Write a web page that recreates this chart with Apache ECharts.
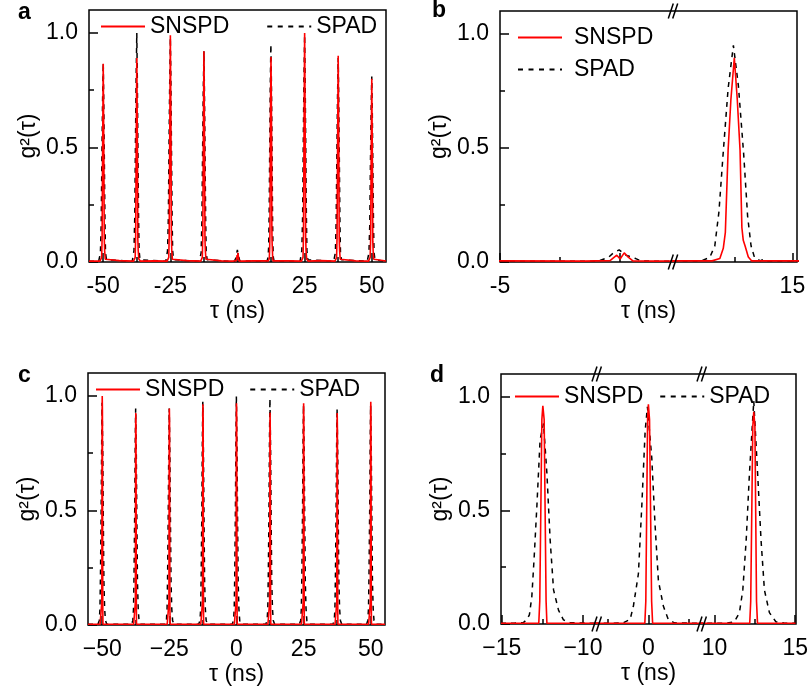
<!DOCTYPE html>
<html>
<head>
<meta charset="utf-8">
<script src="https://cdn.jsdelivr.net/npm/echarts@6/dist/echarts.min.js"></script>
<style>
  html, body { margin: 0; padding: 0; background: #fff; }
  #chart { width: 811px; height: 690px; }
</style>
</head>
<body>
<div id="chart"></div>
<script>
// ---- g2(tau) histograms, [tau (ns), g2] ----
// Pulsed excitation, 12.5 ns repetition (panel a, window -5..15 ns in panel b)
const snspdPulsed = [
  [-55.3,0.004],
  [-51.2,0.004],[-50.6,0.02],[-50.42,0.1],[-50.25,0.45],[-50.0,0.865],[-49.75,0.43],[-49.62,0.1],[-49.48,0.05],[-49.25,0.012],[-48.7,0.004],
  [-44.0,0.006],
  [-38.7,0.004],[-38.1,0.02],[-37.92,0.11],[-37.75,0.46],[-37.5,0.89],[-37.25,0.45],[-37.12,0.1],[-36.98,0.05],[-36.75,0.013],[-36.2,0.004],
  [-31.0,0.005],
  [-26.2,0.004],[-25.6,0.02],[-25.42,0.12],[-25.25,0.51],[-25.0,0.99],[-24.75,0.5],[-24.62,0.11],[-24.48,0.05],[-24.25,0.012],[-23.7,0.004],
  [-19.0,0.006],
  [-13.7,0.004],[-13.1,0.02],[-12.92,0.11],[-12.75,0.47],[-12.5,0.92],[-12.25,0.46],[-12.12,0.1],[-11.98,0.05],[-11.75,0.012],[-11.2,0.004],
  [-6.0,0.005],
  [-1.5,0.004],[-0.42,0.006],[-0.14,0.03],[0.0,0.013],[0.17,0.04],[0.35,0.02],[0.53,0.005],[1.5,0.004],
  [6.0,0.005],
  [11.5,0.005],[11.84,0.015],[11.99,0.06],[12.08,0.13],[12.2,0.49],[12.32,0.71],[12.47,0.895],[12.6,0.71],[12.72,0.49],[12.8,0.15],[12.86,0.095],[12.94,0.07],[13.08,0.022],[13.22,0.005],
  [19.0,0.005],
  [23.8,0.004],[24.4,0.02],[24.58,0.12],[24.75,0.52],[25.0,1.0],[25.25,0.5],[25.38,0.11],[25.52,0.05],[25.75,0.013],[26.3,0.004],
  [31.0,0.006],
  [36.3,0.004],[36.9,0.02],[37.08,0.11],[37.25,0.46],[37.5,0.9],[37.75,0.45],[37.88,0.1],[38.02,0.05],[38.25,0.012],[38.8,0.004],
  [44.0,0.005],
  [48.8,0.004],[49.4,0.02],[49.58,0.1],[49.75,0.41],[50.0,0.8],[50.25,0.4],[50.38,0.09],[50.52,0.045],[50.75,0.012],[51.3,0.004],
  [55.3,0.004]
];
const spadPulsed = [
  [-55.3,0.003],
  [-51.7,0.003],[-51.05,0.04],[-50.75,0.17],[-50.5,0.45],[-50.25,0.7],[-50.0,0.87],[-49.8,0.7],[-49.58,0.44],[-49.35,0.17],[-49.15,0.04],[-48.8,0.01],[-48.3,0.003],
  [-39.2,0.003],[-38.55,0.05],[-38.25,0.2],[-38.0,0.52],[-37.75,0.8],[-37.5,1.0],[-37.3,0.8],[-37.08,0.5],[-36.85,0.2],[-36.65,0.05],[-36.3,0.01],[-35.8,0.003],
  [-26.7,0.003],[-26.05,0.05],[-25.75,0.19],[-25.5,0.51],[-25.25,0.78],[-25.0,0.98],[-24.8,0.78],[-24.58,0.49],[-24.35,0.19],[-24.15,0.05],[-23.8,0.01],[-23.3,0.003],
  [-14.2,0.003],[-13.55,0.04],[-13.25,0.18],[-13.0,0.48],[-12.75,0.74],[-12.5,0.92],[-12.3,0.74],[-12.08,0.46],[-11.85,0.18],[-11.65,0.04],[-11.3,0.01],[-10.8,0.003],
  [-3.0,0.003],[-1.2,0.003],[-0.86,0.006],[-0.49,0.02],[-0.28,0.04],[-0.04,0.053],[0.24,0.03],[0.65,0.015],[0.86,0.005],[1.5,0.003],
  [11.0,0.004],[11.4,0.02],[11.62,0.07],[11.8,0.22],[11.98,0.47],[12.2,0.76],[12.43,0.95],[12.65,0.77],[12.88,0.47],[13.05,0.2],[13.2,0.07],[13.35,0.02],[13.6,0.005],[13.7,0.01],[13.85,0.003],
  [23.3,0.003],[23.95,0.05],[24.25,0.2],[24.5,0.52],[24.75,0.8],[25.0,0.99],[25.2,0.79],[25.42,0.5],[25.65,0.2],[25.85,0.05],[26.2,0.01],[26.7,0.003],
  [35.8,0.003],[36.45,0.04],[36.75,0.18],[37.0,0.46],[37.25,0.72],[37.5,0.89],[37.7,0.71],[37.92,0.45],[38.15,0.17],[38.35,0.04],[38.7,0.01],[39.2,0.003],
  [48.3,0.003],[48.95,0.04],[49.25,0.16],[49.5,0.42],[49.75,0.65],[50.0,0.81],[50.2,0.65],[50.42,0.41],[50.65,0.16],[50.85,0.04],[51.2,0.01],[51.7,0.003],
  [55.3,0.003]
];

// Second measurement (panel c, full range)
const snspdFull = [
  [-55.3,0.003],
  [-50.8,0.003],[-50.22,0.004],[-50.16,0.1],[-50.05,0.93],[-50.0,1.0],[-49.93,0.93],[-49.8,0.1],[-49.74,0.004],[-49.2,0.003],
  [-38.3,0.003],[-37.72,0.004],[-37.66,0.1],[-37.55,0.86],[-37.5,0.925],[-37.43,0.86],[-37.3,0.1],[-37.24,0.004],[-36.7,0.003],
  [-25.8,0.003],[-25.22,0.004],[-25.16,0.1],[-25.05,0.88],[-25.0,0.945],[-24.93,0.88],[-24.8,0.1],[-24.74,0.004],[-24.2,0.003],
  [-13.3,0.003],[-12.72,0.004],[-12.66,0.1],[-12.55,0.9],[-12.5,0.964],[-12.43,0.9],[-12.3,0.1],[-12.24,0.004],[-11.7,0.003],
  [-0.8,0.003],[-0.22,0.004],[-0.16,0.1],[-0.05,0.9],[0.0,0.968],[0.07,0.9],[0.2,0.1],[0.26,0.004],[0.8,0.003],
  [11.7,0.003],[12.28,0.004],[12.34,0.1],[12.45,0.86],[12.5,0.927],[12.57,0.86],[12.7,0.1],[12.76,0.004],[13.3,0.003],
  [24.2,0.003],[24.78,0.004],[24.84,0.1],[24.95,0.9],[25.0,0.968],[25.07,0.9],[25.2,0.1],[25.26,0.004],[25.8,0.003],
  [36.7,0.003],[37.28,0.004],[37.34,0.1],[37.45,0.86],[37.5,0.925],[37.57,0.86],[37.7,0.1],[37.76,0.004],[38.3,0.003],
  [49.2,0.003],[49.78,0.004],[49.84,0.1],[49.95,0.9],[50.0,0.974],[50.07,0.9],[50.2,0.1],[50.26,0.004],[50.8,0.003],
  [55.3,0.003]
];
const spadFull = [
  [-55.3,0.003],
  [-51.6,0.003],[-51.1,0.02],[-50.85,0.07],[-50.65,0.22],[-50.4,0.5],[-50.2,0.8],[-50.05,0.97],[-49.8,0.75],[-49.59,0.45],[-49.38,0.19],[-49.1,0.07],[-48.8,0.02],[-48.3,0.003],
  [-39.1,0.003],[-38.6,0.02],[-38.35,0.07],[-38.15,0.22],[-37.9,0.5],[-37.7,0.8],[-37.55,0.945],[-37.3,0.74],[-37.09,0.44],[-36.88,0.19],[-36.6,0.07],[-36.3,0.02],[-35.8,0.003],
  [-26.6,0.003],[-26.1,0.02],[-25.85,0.07],[-25.65,0.22],[-25.4,0.5],[-25.2,0.8],[-25.05,0.945],[-24.8,0.74],[-24.59,0.44],[-24.38,0.19],[-24.1,0.07],[-23.8,0.02],[-23.3,0.003],
  [-14.1,0.003],[-13.6,0.02],[-13.35,0.07],[-13.15,0.22],[-12.9,0.5],[-12.7,0.82],[-12.55,0.974],[-12.3,0.75],[-12.09,0.45],[-11.88,0.19],[-11.6,0.07],[-11.3,0.02],[-10.8,0.003],
  [-1.6,0.003],[-1.1,0.02],[-0.85,0.07],[-0.65,0.22],[-0.4,0.5],[-0.2,0.83],[-0.05,0.997],[0.2,0.76],[0.41,0.45],[0.62,0.19],[0.9,0.07],[1.2,0.02],[1.7,0.003],
  [10.9,0.003],[11.4,0.02],[11.65,0.07],[11.85,0.22],[12.1,0.5],[12.3,0.83],[12.45,0.988],[12.7,0.76],[12.91,0.45],[13.12,0.19],[13.4,0.07],[13.7,0.02],[14.2,0.003],
  [23.4,0.003],[23.9,0.02],[24.15,0.07],[24.35,0.22],[24.6,0.5],[24.8,0.81],[24.95,0.96],[25.2,0.75],[25.41,0.45],[25.62,0.19],[25.9,0.07],[26.2,0.02],[26.7,0.003],
  [35.9,0.003],[36.4,0.02],[36.65,0.07],[36.85,0.22],[37.1,0.5],[37.3,0.8],[37.45,0.945],[37.7,0.74],[37.91,0.44],[38.12,0.19],[38.4,0.07],[38.7,0.02],[39.2,0.003],
  [48.4,0.003],[48.9,0.02],[49.15,0.07],[49.35,0.22],[49.6,0.5],[49.8,0.81],[49.95,0.96],[50.2,0.75],[50.41,0.45],[50.62,0.19],[50.9,0.07],[51.2,0.02],[51.7,0.003],
  [55.3,0.003]
];

// Same measurement, detailed peaks around -12.5, 0 and 12.5 ns (panel d)
const snspdZoom = [
  [-15.05,0.003],[-13.5,0.003],[-12.72,0.004],[-12.66,0.1],[-12.53,0.9],[-12.47,0.96],[-12.39,0.9],[-12.27,0.1],[-12.22,0.004],[-11.0,0.003],
  [-3.2,0.003],[-1.0,0.003],[-0.22,0.004],[-0.16,0.1],[-0.05,0.9],[0.0,0.967],[0.07,0.9],[0.2,0.1],[0.26,0.004],[1.0,0.003],
  [9.2,0.003],[11.5,0.003],[12.18,0.004],[12.24,0.1],[12.37,0.87],[12.43,0.934],[12.5,0.87],[12.6,0.1],[12.66,0.004],[13.5,0.003],[15.02,0.003]
];
const spadZoom = [
  [-15.05,0.003],[-14.2,0.004],[-13.67,0.006],[-13.45,0.02],[-13.3,0.04],[-13.15,0.12],[-13.0,0.3],[-12.84,0.516],[-12.64,0.81],[-12.43,0.883],[-12.22,0.663],[-12.02,0.37],[-11.81,0.15],[-11.5,0.06],[-11.2,0.018],[-10.8,0.006],[-9.15,0.003],
  [-3.2,0.003],[-1.6,0.004],[-1.13,0.02],[-0.93,0.078],[-0.62,0.22],[-0.41,0.516],[-0.2,0.85],[-0.06,0.956],[0.21,0.73],[0.41,0.44],[0.62,0.19],[0.93,0.078],[1.23,0.02],[1.6,0.005],[3.3,0.003],
  [9.2,0.003],[10.8,0.004],[11.23,0.01],[11.54,0.05],[11.75,0.15],[11.96,0.37],[12.16,0.66],[12.43,0.981],[12.67,0.66],[12.88,0.37],[13.09,0.15],[13.4,0.05],[13.8,0.01],[14.3,0.004],[15.02,0.003]
];

// ---- tick values ----
const yMajorTicks = [0, 0.5, 1.0];
const yMinorTicks = [0.25, 0.75];
const fullMajorTicks = [-50, -25, 0, 25, 50];
const fullMinorTicks = [-37.5, -12.5, 12.5, 37.5];

const FONT = '"Liberation Sans", Arial, Helvetica, sans-serif';
const BLACK = '#000000';
const RED = '#ff0000';
const TICK_MAJOR = 9;
const TICK_MINOR = 5;
const tickLine = { color: BLACK, width: 1.5 };
const labelFont = { fontFamily: FONT, fontSize: 23, color: BLACK };

const hyphen = v => String(v);
const minus = v => String(v).replace('-', '\u2212');

// ---- layout ----
const grids = [];
const xAxes = [];
const yAxes = [];
const series = [];

function addGrid(left, top, width, height, framed) {
  grids.push({
    left, top, width, height,
    show: !!framed,
    borderColor: BLACK,
    borderWidth: 1.5,
    backgroundColor: 'transparent',
    containLabel: false
  });
  return grids.length - 1;
}

function addX(gridIndex, min, max, majors, minors, fmt, name) {
  xAxes.push({
    type: 'value', gridIndex, min, max, position: 'bottom',
    axisLine: { show: false, onZero: false },
    splitLine: { show: false },
    axisTick: majors.length ? { show: true, inside: true, length: TICK_MAJOR, customValues: majors, lineStyle: tickLine } : { show: false },
    axisLabel: majors.length ? Object.assign({ show: true, customValues: majors, formatter: fmt, margin: 13 }, labelFont) : { show: false },
    name: name || '',
    nameLocation: 'middle',
    nameGap: 38,
    nameTextStyle: Object.assign({}, labelFont)
  });
  const main = xAxes.length - 1;
  if (minors && minors.length) {
    xAxes.push({
      type: 'value', gridIndex, min, max, position: 'bottom',
      axisLine: { show: false, onZero: false }, splitLine: { show: false }, axisLabel: { show: false },
      axisTick: { show: true, inside: true, length: TICK_MINOR, customValues: minors, lineStyle: tickLine }
    });
  }
  return main;
}

function addY(gridIndex, visible) {
  if (!visible) {
    yAxes.push({ type: 'value', gridIndex, min: 0, max: 1.1, show: false, axisLine: { onZero: false } });
    return yAxes.length - 1;
  }
  yAxes.push({
    type: 'value', gridIndex, min: 0, max: 1.1, position: 'left',
    axisLine: { show: false, onZero: false },
    splitLine: { show: false },
    axisTick: { show: true, inside: true, length: TICK_MAJOR, customValues: yMajorTicks, lineStyle: tickLine },
    axisLabel: Object.assign({ show: true, customValues: yMajorTicks, formatter: v => v.toFixed(1), margin: 11 }, labelFont),
    name: 'g\u00b2(\u03c4)',
    nameLocation: 'middle',
    nameRotate: 90,
    nameGap: 49,
    nameTextStyle: Object.assign({}, labelFont)
  });
  const main = yAxes.length - 1;
  yAxes.push({
    type: 'value', gridIndex, min: 0, max: 1.1, position: 'left',
    axisLine: { show: false, onZero: false }, splitLine: { show: false }, axisLabel: { show: false },
    axisTick: { show: true, inside: true, length: TICK_MINOR, customValues: yMinorTicks, lineStyle: tickLine }
  });
  return main;
}

function addPair(xi, yi, snspd, spad) {
  series.push({
    name: 'SPAD', type: 'line', xAxisIndex: xi, yAxisIndex: yi, data: spad,
    symbol: 'none', showSymbol: false, clip: true, z: 2,
    lineStyle: { color: BLACK, width: 1.5, type: [5, 5] }, itemStyle: { color: BLACK }
  });
  series.push({
    name: 'SNSPD', type: 'line', xAxisIndex: xi, yAxisIndex: yi, data: snspd,
    symbol: 'none', showSymbol: false, clip: true, z: 3,
    lineStyle: { color: RED, width: 1.6 }, itemStyle: { color: RED }
  });
}

// Panel a
const gA = addGrid(89, 10, 297, 252, true);
const xA = addX(gA, -55.3, 55.3, fullMajorTicks, fullMinorTicks, hyphen, '\u03c4 (ns)');
const yA = addY(gA, true);
addPair(xA, yA, snspdPulsed, spadPulsed);

// Panel b (broken axis: -5..2.2 | 9.8..15.2)
const B = { left: 500, top: 11, height: 251, w1: 173, w2: 124 };
const gB = addGrid(B.left, B.top, B.w1 + B.w2, B.height, true);
addX(gB, 0, 1, [], [], hyphen, '\u03c4 (ns)');
addY(gB, true);
const gB1 = addGrid(B.left, B.top, B.w1, B.height, false);
const xB1 = addX(gB1, -5, 2.2, [-5, 0], [-2.5], hyphen);
const yB1 = addY(gB1, false);
addPair(xB1, yB1, snspdPulsed, spadPulsed);
const gB2 = addGrid(B.left + B.w1, B.top, B.w2, B.height, false);
const xB2 = addX(gB2, 9.8, 15.2, [15], [12.5], hyphen);
const yB2 = addY(gB2, false);
addPair(xB2, yB2, snspdPulsed, spadPulsed);

// Panel c
const gC = addGrid(88, 373, 297, 252, true);
const xC = addX(gC, -55.3, 55.3, fullMajorTicks, fullMinorTicks, minus, '\u03c4 (ns)');
const yC = addY(gC, true);
addPair(xC, yC, snspdFull, spadFull);

// Panel d (broken axis: -15..-9.15 | -3.2..3.3 | 9.2..15)
const D = { left: 501, top: 374, height: 250, w1: 95.7, w2: 105, w3: 94.3 };
const gD = addGrid(D.left, D.top, D.w1 + D.w2 + D.w3, D.height, true);
addX(gD, 0, 1, [], [], minus, '\u03c4 (ns)');
addY(gD, true);
const gD1 = addGrid(D.left, D.top, D.w1, D.height, false);
const xD1 = addX(gD1, -15.05, -9.15, [-15, -10], [-12.5], minus);
const yD1 = addY(gD1, false);
addPair(xD1, yD1, snspdZoom, spadZoom);
const gD2 = addGrid(D.left + D.w1, D.top, D.w2, D.height, false);
const xD2 = addX(gD2, -3.2, 3.3, [0], [-2.5, 2.5], minus);
const yD2 = addY(gD2, false);
addPair(xD2, yD2, snspdZoom, spadZoom);
const gD3 = addGrid(D.left + D.w1 + D.w2, D.top, D.w3, D.height, false);
const xD3 = addX(gD3, 9.2, 15.02, [10, 15], [12.5], minus);
const yD3 = addY(gD3, false);
addPair(xD3, yD3, snspdZoom, spadZoom);

// ---- legends (line sample only, no marker) ----
function legendAt(left, top, orient, itemGap, textPadLeft) {
  return {
    data: [
      { name: 'SNSPD' },
      { name: 'SPAD', lineStyle: { type: [5, 5.5] } }
    ],
    left, top, orient, itemGap,
    padding: 0,
    itemWidth: 44, itemHeight: 14,
    selectedMode: false,
    itemStyle: { opacity: 0 },
    textStyle: { fontFamily: FONT, fontSize: 23, color: BLACK, padding: [0, 0, 0, textPadLeft || 0] }
  };
}

// ---- break marks and panel letters ----
function breakMark(x, y) {
  const els = [];
  [-2.2, 2.2].forEach(o => {
    els.push({
      type: 'line', z: 100,
      shape: { x1: x + o - 2.5, y1: y + 7.5, x2: x + o + 2.5, y2: y - 7.5 },
      style: { stroke: BLACK, lineWidth: 1.5 }
    });
  });
  return els;
}
function letter(t, x, y) {
  return {
    type: 'text', z: 100,
    style: { text: t, x, y, font: 'bold 23px ' + FONT, fill: BLACK, textAlign: 'left', verticalAlign: 'middle' }
  };
}

const graphics = [].concat(
  breakMark(B.left + B.w1, B.top), breakMark(B.left + B.w1, B.top + B.height),
  breakMark(D.left + D.w1, D.top), breakMark(D.left + D.w1, D.top + D.height),
  breakMark(D.left + D.w1 + D.w2, D.top), breakMark(D.left + D.w1 + D.w2, D.top + D.height),
  [letter('a', 18, 13), letter('b', 432, 11), letter('c', 18, 376), letter('d', 430, 376)]
);

const chart = echarts.init(document.getElementById('chart'), null, { renderer: 'canvas', devicePixelRatio: 1 });
chart.setOption({
  animation: false,
  backgroundColor: '#ffffff',
  textStyle: { fontFamily: FONT },
  grid: grids,
  xAxis: xAxes,
  yAxis: yAxes,
  legend: [
    legendAt(100, 15, 'horizontal', 37),
    legendAt(517, 26, 'vertical', 9, 7),
    legendAt(95, 378, 'horizontal', 25),
    legendAt(514, 385, 'horizontal', 16)
  ],
  series,
  graphic: graphics
});
</script>
</body>
</html>
